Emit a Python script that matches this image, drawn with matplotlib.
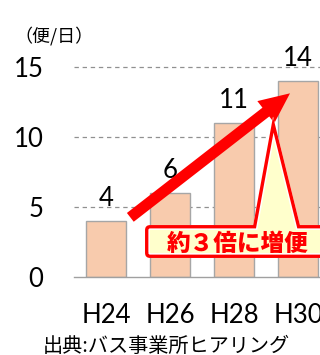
import matplotlib
matplotlib.use('Agg')
import matplotlib.pyplot as plt
from matplotlib.path import Path
from matplotlib.patches import PathPatch, FancyArrowPatch

plt.rcParams['font.family'] = ['Noto Sans CJK JP', 'DejaVu Sans']

years = ['H24', 'H26', 'H28', 'H30']
trips = [4, 6, 11, 14]
y_ticks = [0, 5, 10, 15]
unit_label = '（便/日）'
source_label = '出典:バス事業所ヒアリング'
callout_label = '約３倍に増便'

bar_color = '#F8CBAD'
red = '#FF0000'
num_font = 'Lato'

fig = plt.figure(figsize=(3.2, 3.55), dpi=100)
ax = fig.add_axes([74/320, 78/355, 256/320, 224/355])

x = range(len(years))
ax.bar(x, trips, width=0.625, color=bar_color, edgecolor='#A6A6A6', linewidth=1, zorder=2)

for xi, v in zip(x, trips):
    ax.annotate(str(v), (xi, v), xytext=(0, 16.5), textcoords='offset points',
                ha='center', va='center', fontsize=18.5, family=num_font)

ax.set_xlim(-0.5, 3.5)
ax.set_ylim(0, 16)
ax.set_yticks(y_ticks)
ax.set_xticks(list(x))
ax.set_xticklabels(years)
ax.tick_params(axis='y', length=0, pad=22, labelsize=18.5)
ax.tick_params(axis='x', length=0, pad=19, labelsize=18.5)
for lab in ax.get_xticklabels() + ax.get_yticklabels():
    lab.set_family(num_font)
for t in y_ticks[1:]:
    ax.axhline(t, color='#909090', lw=0.9, ls=(0, (3.5, 3)), zorder=1)
for s in ['top', 'right', 'left']:
    ax.spines[s].set_visible(False)
ax.spines['bottom'].set_color('#A0A0A0')
ax.spines['bottom'].set_linewidth(1)
ax.spines['bottom'].set_zorder(3)

# growth arrow from H24 up to H30
arrow = FancyArrowPatch((0.38, 4.26), (2.875, 13.12),
                        arrowstyle='simple,head_width=2.0,head_length=2.2,tail_width=0.8',
                        mutation_scale=10, color=red, lw=0, shrinkA=0, shrinkB=0, zorder=4)
ax.add_patch(arrow)

# callout box with a pointer towards the arrow head
L, R, B, T = 0.61, 3.7, 1.36, 3.71
rx, ry = 0.08, 0.36
p1, p2 = 2.30, 3.03
tip = (2.61, 11.45)
verts = [(L, B + ry), (L, T - ry), (L, T), (L + rx, T), (p1, T), tip, (p2, T),
         (R - rx, T), (R, T), (R, T - ry), (R, B + ry), (R, B), (R - rx, B),
         (L + rx, B), (L, B), (L, B + ry), (L, B + ry)]
codes = [Path.MOVETO, Path.LINETO, Path.CURVE3, Path.CURVE3, Path.LINETO, Path.LINETO,
         Path.LINETO, Path.LINETO, Path.CURVE3, Path.CURVE3, Path.LINETO, Path.CURVE3,
         Path.CURVE3, Path.LINETO, Path.CURVE3, Path.CURVE3, Path.CLOSEPOLY]
callout = Path(verts, codes)

fill = PathPatch(callout, facecolor='#FFFFCC', edgecolor='none', zorder=5)
ax.add_patch(fill)
inner = PathPatch(callout, facecolor='none', edgecolor='white', lw=7, joinstyle='miter', zorder=5.1)
ax.add_patch(inner)
inner.set_clip_path(fill)
outer = PathPatch(callout, facecolor='none', edgecolor=red, lw=4.8, joinstyle='miter', zorder=5.2)
ax.add_patch(outer)
outer.set_clip_path(fill)

ax.text(2.05, 2.4, callout_label, color=red, fontsize=17, fontweight='heavy',
        ha='center', va='center', zorder=6)

fig.text(14/320, 1 - 36/355, unit_label, fontsize=13, ha='left', va='center')
fig.text(43/320, 1 - 346/355, source_label, fontsize=14.5, ha='left', va='center')

fig.savefig('out.png', dpi=100)
